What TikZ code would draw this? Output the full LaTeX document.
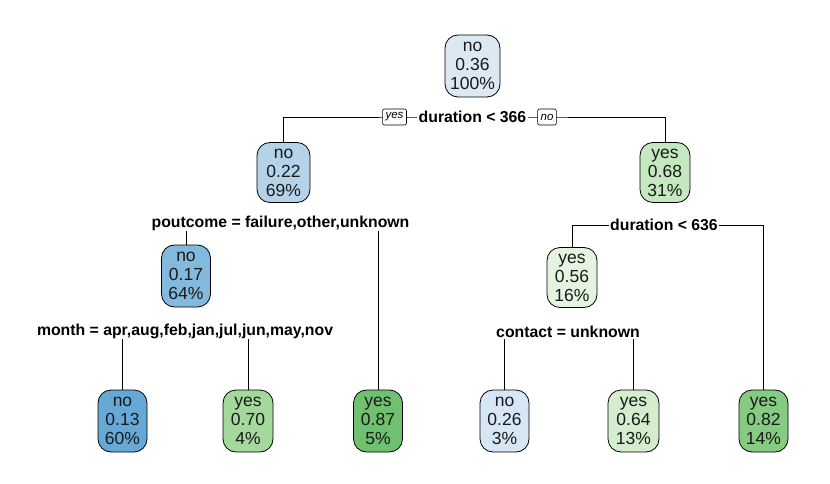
\documentclass[tikz,border=0pt]{standalone}
\usepackage{fontspec}
\setmainfont{Liberation Sans}
\usetikzlibrary{backgrounds}
\definecolor{cRoot}{HTML}{DCE8F4}
\definecolor{cA}{HTML}{B4D3E9}
\definecolor{cB}{HTML}{82B9DD}
\definecolor{cC}{HTML}{66A9D7}
\definecolor{cD}{HTML}{D7E6F4}
\definecolor{gA}{HTML}{C6E8C0}
\definecolor{gB}{HTML}{E5F4E0}
\definecolor{gC}{HTML}{A3D99B}
\definecolor{gD}{HTML}{6FC06F}
\definecolor{gE}{HTML}{D4EDCE}
\definecolor{gF}{HTML}{86CB82}
\begin{document}
\begin{tikzpicture}[x=1pt,y=-1pt,
 box/.style={draw, line width=0.8pt, rounded corners=13pt, minimum width=49pt, minimum height=60pt, inner xsep=4pt, inner ysep=0pt, align=center, text=black!90, font=\fontsize{17.5}{19}\selectfont},
 split/.style={fill=white, inner xsep=1.5pt, inner ysep=1pt, font=\bfseries\fontsize{15.8}{17}\selectfont},
 tag/.style={draw, fill=white, line width=0.6pt, rounded corners=2pt, inner xsep=3pt, inner ysep=1pt, minimum height=16pt, font=\itshape\fontsize{11.5}{12}\selectfont},
 edge/.style={line width=0.8pt}]
\useasboundingbox (0,0) rectangle (830,484);
% nodes
\node[box, fill=cRoot, minimum width=55pt, minimum height=62pt] (root) at (472.5,66) {no\\0.36\\100\%};
\node[split] (s1) at (472.5,117) {duration < 366};
\node[tag] (tyes) at (394.5,117) {yes};
\node[tag] (tno) at (547,117) {no};
\node[box, fill=cA, minimum width=53pt] (n2) at (283.5,172.5) {no\\0.22\\69\%};
\node[box, fill=gA, minimum width=50pt] (n3) at (665,172.5) {yes\\0.68\\31\%};
\node[split] (s2) at (280.5,223) {poutcome = failure,other,unknown};
\node[split] (s3) at (664,225) {duration < 636};
\node[box, fill=cB, minimum height=62pt] (n4) at (186,276) {no\\0.17\\64\%};
\node[box, fill=gB, minimum width=50pt] (n5) at (572,277.5) {yes\\0.56\\16\%};
\node[split] (s4) at (185,331) {month = apr,aug,feb,jan,jul,jun,may,nov};
\node[split] (s5) at (568,332) {contact = unknown};
\node[box, fill=cC, minimum height=62pt] (l1) at (122.5,421) {no\\0.13\\60\%};
\node[box, fill=gC, minimum width=50pt, minimum height=62pt] (l2) at (248,421) {yes\\0.70\\4\%};
\node[box, fill=gD, minimum height=62pt] (l3) at (378,421) {yes\\0.87\\5\%};
\node[box, fill=cD, minimum height=62pt] (l4) at (504.5,421) {no\\0.26\\3\%};
\node[box, fill=gE, minimum width=51pt, minimum height=62pt] (l5) at (633.5,421) {yes\\0.64\\13\%};
\node[box, fill=gF, minimum height=62pt] (l6) at (763.5,421) {yes\\0.82\\14\%};
% connectors
\begin{scope}[on background layer]
\draw[edge] (n2.north) |- (s1.center) -| (n3.north);
\draw[edge] (n4.north) |- (s2.center) -| (l3.north);
\draw[edge] (n5.north) |- (s3.center) -| (l6.north);
\draw[edge] (l1.north) |- (s4.center) -| (l2.north);
\draw[edge] (l4.north) |- (s5.center) -| (l5.north);
\end{scope}
\end{tikzpicture}
\end{document}
